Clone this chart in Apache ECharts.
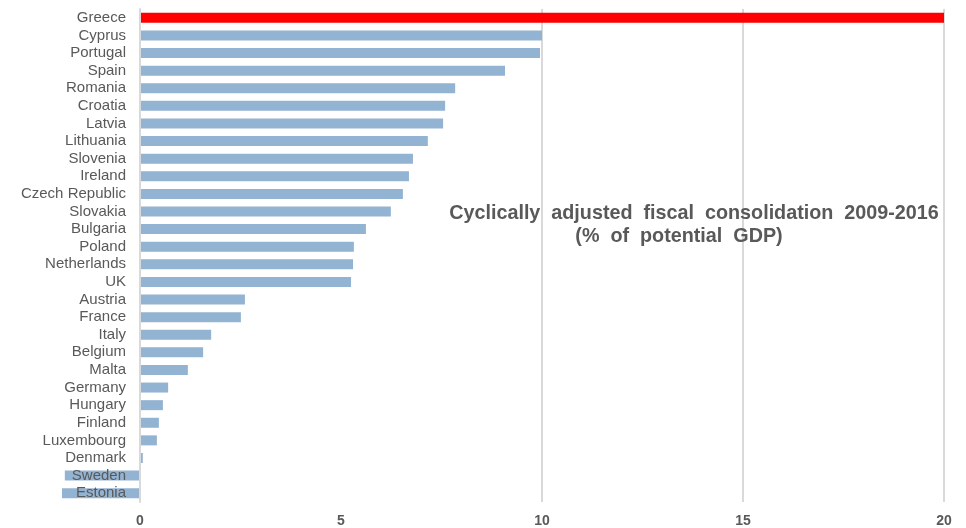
<!DOCTYPE html>
<html>
<head>
<meta charset="utf-8">
<script src="https://cdn.jsdelivr.net/npm/echarts@6/dist/echarts.min.js"></script>
<style>
  html, body { margin: 0; padding: 0; background: #ffffff; }
  #chart { width: 966px; height: 528px; }
</style>
</head>
<body>
<div id="chart"></div>
<script>
// Countries, top to bottom
const countries = [
  'Greece', 'Cyprus', 'Portugal', 'Spain', 'Romania', 'Croatia', 'Latvia',
  'Lithuania', 'Slovenia', 'Ireland', 'Czech Republic', 'Slovakia', 'Bulgaria',
  'Poland', 'Netherlands', 'UK', 'Austria', 'France', 'Italy', 'Belgium',
  'Malta', 'Germany', 'Hungary', 'Finland', 'Luxembourg', 'Denmark',
  'Sweden', 'Estonia'
];
// Cyclically adjusted fiscal consolidation 2009-2016, % of potential GDP
const consolidation = [
  20.0, 10.0, 9.95, 9.08, 7.84, 7.59, 7.54,
  7.16, 6.79, 6.69, 6.54, 6.24, 5.62,
  5.32, 5.30, 5.25, 2.61, 2.51, 1.77, 1.57,
  1.19, 0.70, 0.57, 0.47, 0.42, 0.07,
  -1.87, -1.94
];
const xTicks = [0, 5, 10, 15, 20];
const gridValues = [10, 15, 20];
const highlighted = 'Greece';
const titleLines = [
  'Cyclically  adjusted  fiscal  consolidation  2009-2016',
  '(%  of  potential  GDP)'
];

const chart = echarts.init(document.getElementById('chart'));

// Axis runs top-to-bottom, so feed categories reversed
const cats = countries.slice().reverse();
const vals = consolidation.slice().reverse();

const font = 'Liberation Sans, Arial, sans-serif';
const titleStyle = {
  fontFamily: font,
  fontSize: 19.75,
  fontWeight: 'bold',
  color: '#595959'
};

chart.setOption({
  backgroundColor: '#ffffff',
  animation: false,
  title: [
    { text: titleLines[0], left: 694, top: 204, textAlign: 'center', padding: 0, textStyle: titleStyle },
    { text: titleLines[1], left: 679, top: 227, textAlign: 'center', padding: 0, textStyle: titleStyle }
  ],
  grid: {
    left: 140, right: 22, top: 9, bottom: 26,
    containLabel: false,
    outerBoundsMode: 'none'
  },
  xAxis: {
    type: 'value',
    min: xTicks[0],
    max: xTicks[xTicks.length - 1],
    interval: 5,
    axisLine: { show: false },
    axisTick: { show: false },
    splitLine: { show: false },
    axisLabel: {
      color: '#595959',
      fontFamily: font,
      fontSize: 14,
      fontWeight: 'bold',
      margin: 12
    }
  },
  yAxis: {
    type: 'category',
    data: cats,
    z: 5,
    axisLine: { show: true, onZero: true, lineStyle: { color: '#d9d9d9', width: 2 } },
    axisTick: { show: false },
    splitLine: { show: false },
    axisLabel: {
      color: '#595959',
      fontFamily: font,
      fontSize: 15,
      margin: 14,
      interval: 0
    }
  },
  series: [{
    type: 'bar',
    // negative values reach past zero into the label column
    clip: false,
    data: vals.map((v, i) => ({
      value: v,
      itemStyle: { color: cats[i] === highlighted ? '#ff0000' : '#93b3d2' }
    })),
    barWidth: 10,
    z: 2,
    markLine: {
      silent: true,
      z: 1,
      symbol: 'none',
      label: { show: false },
      lineStyle: { color: '#d9d9d9', width: 2, type: 'solid' },
      data: gridValues.map(v => ({ xAxis: v }))
    }
  }]
});
</script>
</body>
</html>
